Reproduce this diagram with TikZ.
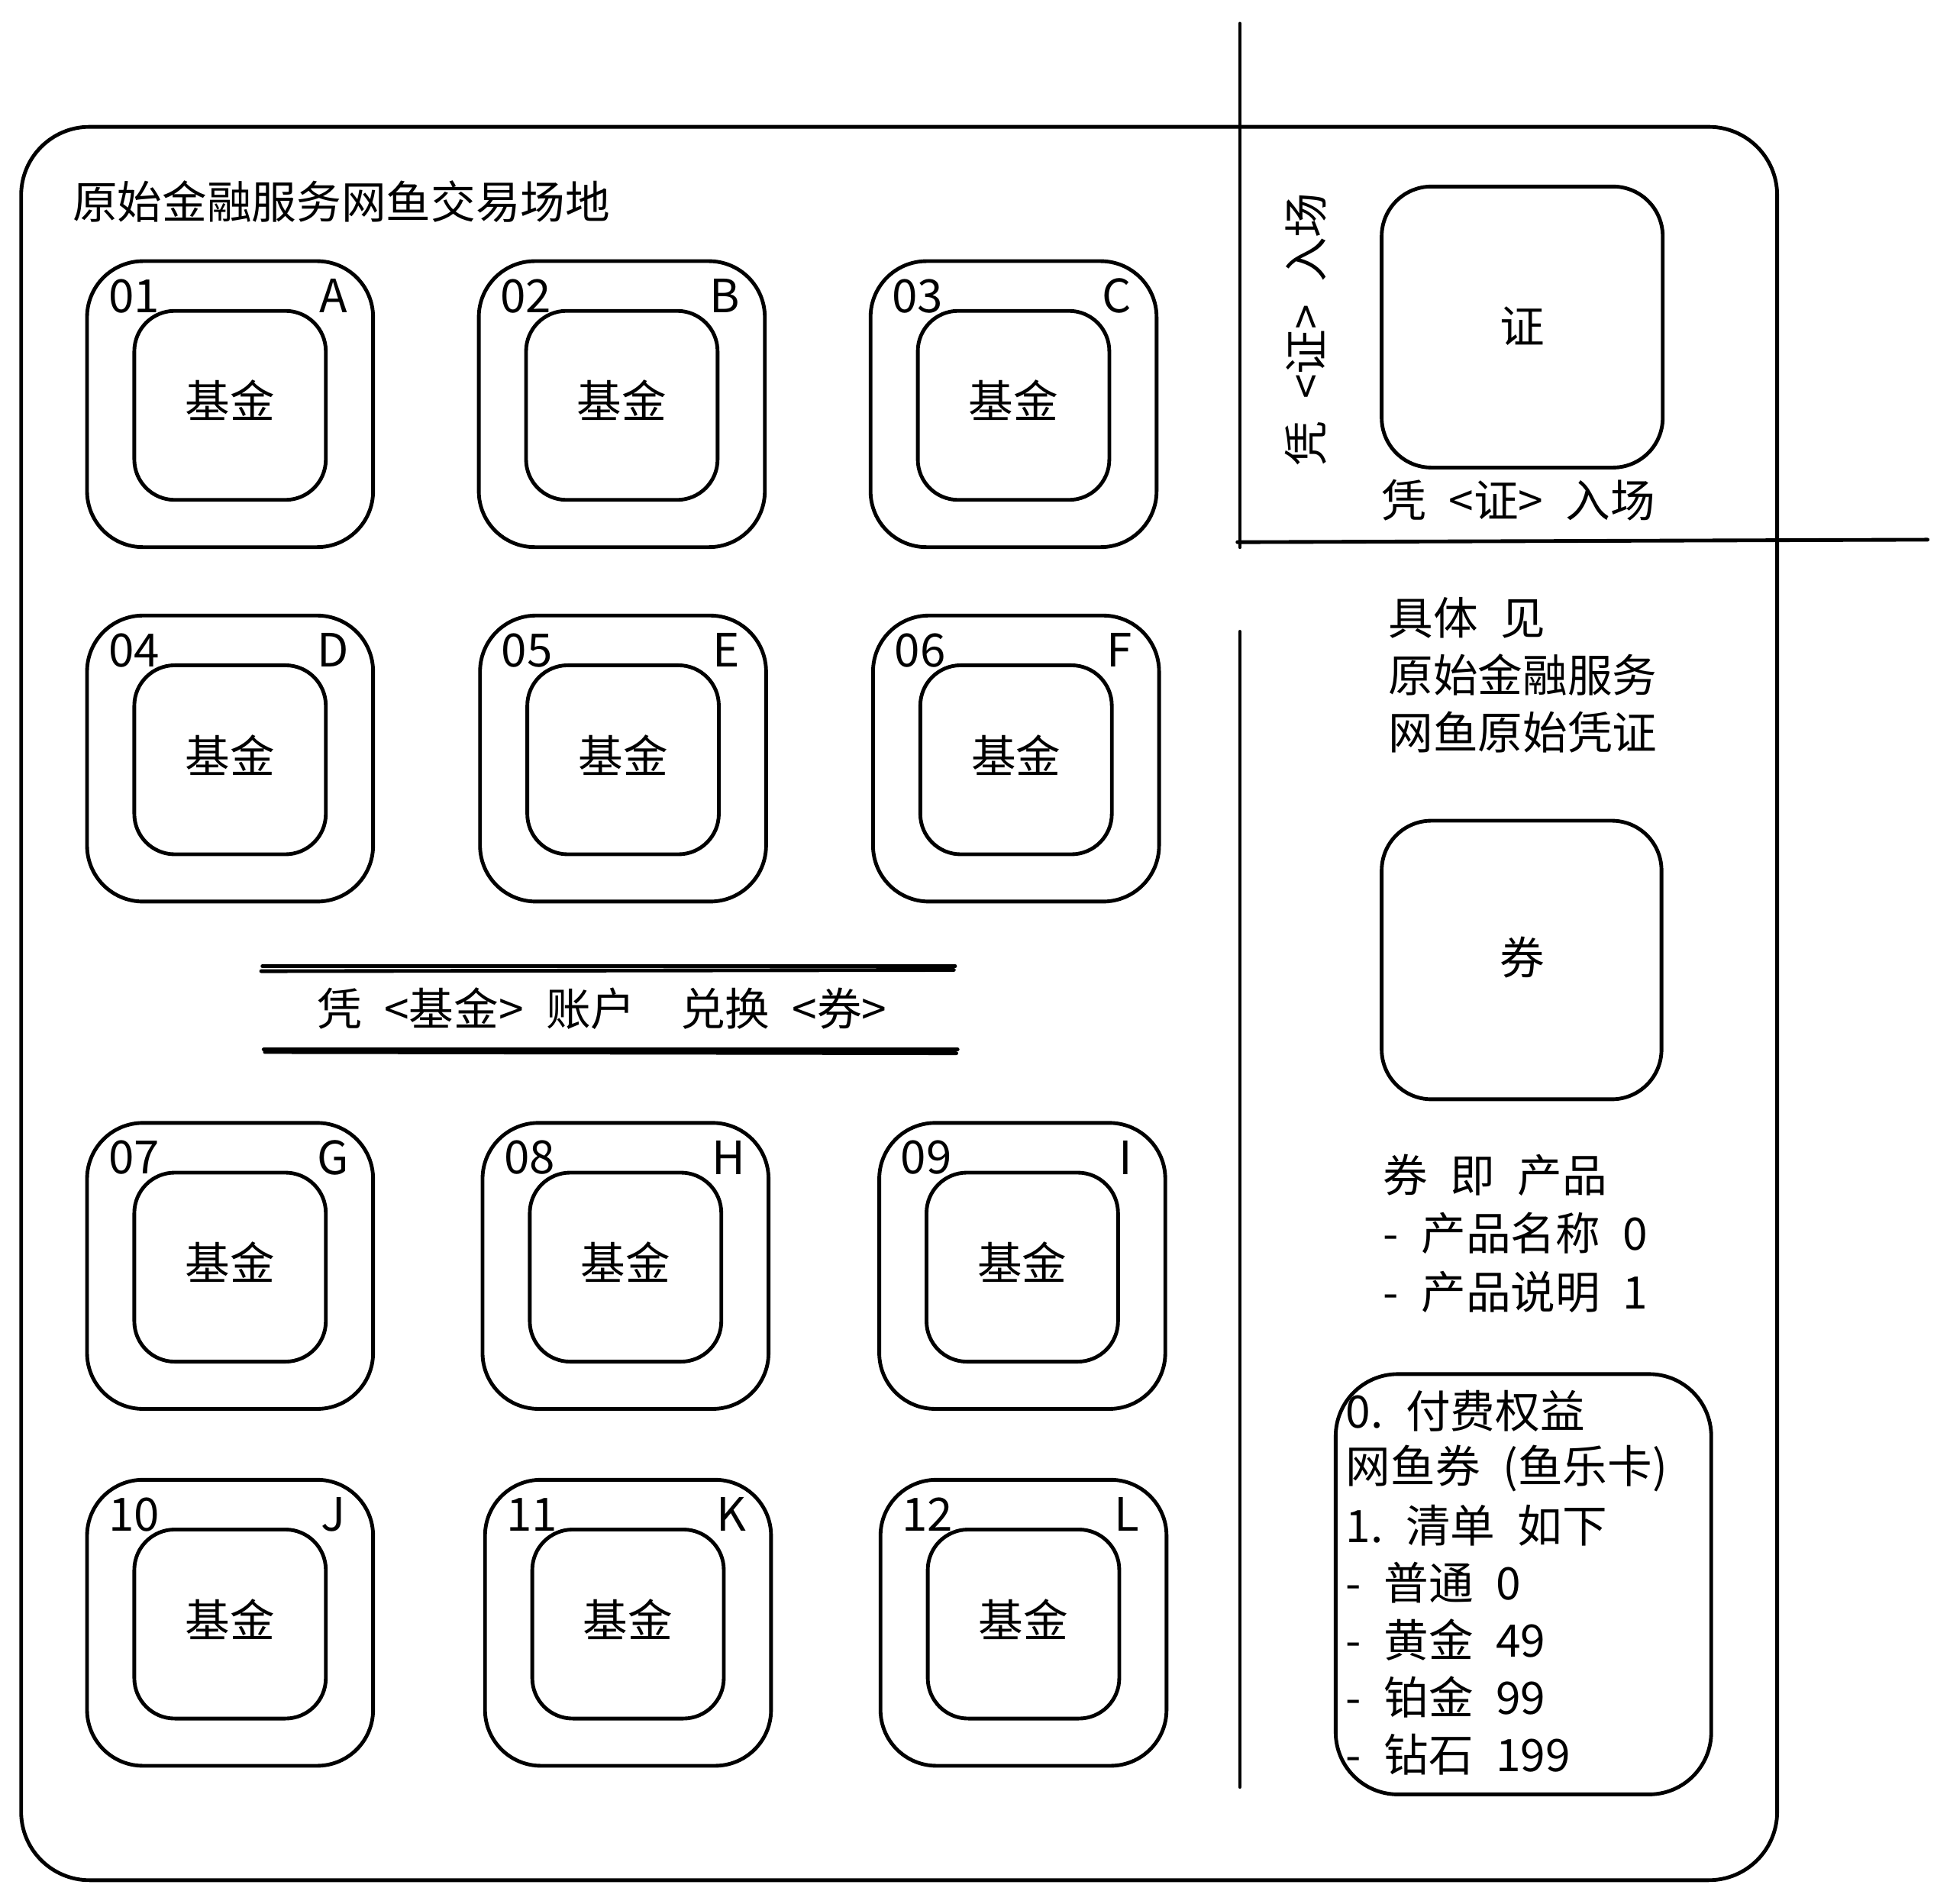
\documentclass[tikz,border=0pt]{standalone}
\usepackage{fontspec}
\setmainfont{Noto Sans CJK SC}
\usetikzlibrary{positioning}

\newcommand{\sgap}{\hspace{0.5em}}

\tikzset{
  sketch/.style={line width=1.7pt, line cap=round, line join=round},
  fundouter/.style={sketch, rounded corners=0.9cm},
  fundinner/.style={sketch, rounded corners=0.65cm},
  hand/.style={font=\fontsize{20.5}{24}\selectfont, inner sep=0pt},
  tag/.style={font=\fontsize{21}{24}\selectfont, inner sep=0pt},
}

\begin{document}
\begin{tikzpicture}[x=0.02cm, y=-0.02cm, line cap=round, line join=round]
\useasboundingbox (0,0) rectangle (1568,1531);
% trading floor
\draw[sketch, rounded corners=1.1cm] (17,102) rectangle (1429,1512);
\node[hand, anchor=west] (title) at (58,162) {原始金融服务网鱼交易场地};
% fund seats
\foreach \x/\y/\n/\c in {70/210/01/A, 385/210/02/B, 700/210/03/C,
                         70/495/04/D, 386/495/05/E, 702/495/06/F,
                         70/903/07/G, 388/903/08/H, 707/903/09/I,
                         70/1190/10/J, 390/1190/11/K, 708/1190/12/L} {
  \draw[fundouter] (\x,\y) rectangle ++(230,230);
  \draw[fundinner] (\x+38,\y+40) rectangle ++(154,152);
  \node[hand] (fund\n) at (\x+115,\y+112) {基金};
  \node[tag, anchor=west] (no\n) at (\x+17,\y+28) {\n};
  \node[tag] (ltr\n) at (\x+198,\y+28) {\c};
}
% exchange band
\draw[sketch] (211,777) -- (768,777);
\draw[sketch] (210,781) -- (767,780);
\draw[sketch] (212,844) -- (770,844);
\draw[sketch] (213,846) -- (769,847);
\node[hand] (swap) at (484,811) {凭\sgap{}<基金>\sgap{}账户\sgap{}\sgap{}兑换\sgap{}<券>};
% entry pass
\draw[sketch] (997,19) -- (997,440);
\draw[sketch] (995,436) -- (1550,434);
\draw[sketch, rounded corners=0.8cm] (1111,150) rectangle (1337,376);
\node[hand] (pass) at (1224,262) {证};
\node[hand, rotate=90] (passv) at (1050,265) {凭\sgap{}<证>\sgap{}入场};
\node[hand] (passh) at (1221,402) {凭\sgap{}<证>\sgap{}入场};
% right column
\draw[sketch] (997,508) -- (997,1437);
\foreach \t [count=\i] in {具体\sgap{}见, 原始金融服务, 网鱼原始凭证}
  \node[hand, anchor=west] (see\i) at (1116,451+46*\i) {\t};
\draw[sketch, rounded corners=0.8cm] (1111,660) rectangle (1336,884);
\node[hand] (ticket) at (1224,770) {券};
\foreach \t [count=\i] in {券\sgap{}即\sgap{}产品, -\sgap{}产品名称\sgap{}0, -\sgap{}产品说明\sgap{}1}
  \node[hand, anchor=west] (prod\i) at (1112,898+47*\i) {\t};
\draw[sketch, rounded corners=1cm] (1074,1105) rectangle (1376,1443);
\foreach \t [count=\i] in {0.\sgap{}付费权益, 网鱼券\sgap{}(鱼乐卡), 1.\sgap{}清单\sgap{}如下,
                           -\sgap{}普通\sgap{}0, -\sgap{}黄金\sgap{}49, -\sgap{}铂金\sgap{}99, -\sgap{}钻石\sgap{}199}
  \node[hand, anchor=west] (perk\i) at (1082,1089+46*\i) {\t};
\end{tikzpicture}
\end{document}
